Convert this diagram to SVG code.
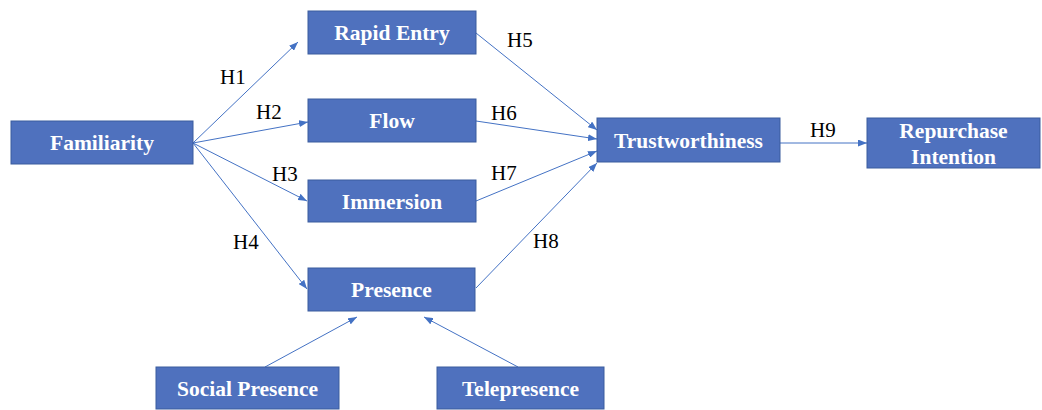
<svg xmlns="http://www.w3.org/2000/svg" width="1042" height="410" viewBox="0 0 1042 410">
<style>
.box{fill:#4F71BE;stroke:#3B5C9E;stroke-width:1}
.con{stroke:#4472C4;stroke-width:1;fill:none;marker-end:url(#ah)}
</style>
<defs>
<marker id="ah" markerUnits="userSpaceOnUse" markerWidth="9" markerHeight="7" refX="9" refY="3.5" orient="auto">
<path d="M0,0 L9,3.5 L0,7 z" fill="#4472C4"/>
</marker>
</defs>
<rect width="1042" height="410" fill="#FFFFFF"/>
<g id="connectors">
<line class="con" x1="193" y1="143" x2="298" y2="42"/>
<line class="con" x1="193" y1="143" x2="308" y2="122"/>
<line class="con" x1="193" y1="143" x2="307" y2="201"/>
<line class="con" x1="193" y1="143" x2="307" y2="289"/>
<line class="con" x1="476" y1="33" x2="597" y2="130"/>
<line class="con" x1="476" y1="121" x2="597" y2="139"/>
<line class="con" x1="476" y1="201" x2="597" y2="151"/>
<line class="con" x1="476" y1="288" x2="597" y2="163"/>
<line class="con" x1="780" y1="143" x2="867" y2="143"/>
<line class="con" x1="265" y1="367" x2="357" y2="317"/>
<line class="con" x1="518" y1="367" x2="424" y2="317"/>
</g>
<g id="labels">
<text x="220" y="84" font-family="'Liberation Serif', serif" font-size="21" fill="#000000">H1</text>
<text x="256" y="119" font-family="'Liberation Serif', serif" font-size="21" fill="#000000">H2</text>
<text x="272" y="181" font-family="'Liberation Serif', serif" font-size="21" fill="#000000">H3</text>
<text x="233" y="249" font-family="'Liberation Serif', serif" font-size="21" fill="#000000">H4</text>
<text x="507" y="47" font-family="'Liberation Serif', serif" font-size="21" fill="#000000">H5</text>
<text x="491" y="120" font-family="'Liberation Serif', serif" font-size="21" fill="#000000">H6</text>
<text x="491" y="180" font-family="'Liberation Serif', serif" font-size="21" fill="#000000">H7</text>
<text x="533" y="248" font-family="'Liberation Serif', serif" font-size="21" fill="#000000">H8</text>
<text x="810" y="137" font-family="'Liberation Serif', serif" font-size="21" fill="#000000">H9</text>
</g>
<g id="familiarity"><rect class="box" x="11" y="121" width="182" height="43"/><text x="102" y="150" font-family="'Liberation Serif', serif" font-size="21.5" font-weight="bold" fill="#FFFFFF" text-anchor="middle">Familiarity</text></g>
<g id="rapid-entry"><rect class="box" x="308" y="11" width="168" height="43"/><text x="392" y="40" font-family="'Liberation Serif', serif" font-size="21.5" font-weight="bold" fill="#FFFFFF" text-anchor="middle">Rapid Entry</text></g>
<g id="flow"><rect class="box" x="308" y="99" width="168" height="43"/><text x="392" y="128" font-family="'Liberation Serif', serif" font-size="21.5" font-weight="bold" fill="#FFFFFF" text-anchor="middle">Flow</text></g>
<g id="immersion"><rect class="box" x="308" y="180" width="168" height="42"/><text x="392" y="208.5" font-family="'Liberation Serif', serif" font-size="21.5" font-weight="bold" fill="#FFFFFF" text-anchor="middle">Immersion</text></g>
<g id="presence"><rect class="box" x="308" y="268" width="167" height="43"/><text x="391.5" y="297" font-family="'Liberation Serif', serif" font-size="21.5" font-weight="bold" fill="#FFFFFF" text-anchor="middle">Presence</text></g>
<g id="trustworthiness"><rect class="box" x="597" y="118" width="183" height="44"/><text x="688.5" y="148" font-family="'Liberation Serif', serif" font-size="21.5" font-weight="bold" fill="#FFFFFF" text-anchor="middle">Trustworthiness</text></g>
<g id="repurchase-intention"><rect class="box" x="867" y="118" width="173" height="50"/><text x="953.5" y="138" font-family="'Liberation Serif', serif" font-size="21.5" font-weight="bold" fill="#FFFFFF" text-anchor="middle">Repurchase</text><text x="953.5" y="164" font-family="'Liberation Serif', serif" font-size="21.5" font-weight="bold" fill="#FFFFFF" text-anchor="middle">Intention</text></g>
<g id="social-presence"><rect class="box" x="156" y="367" width="183" height="42"/><text x="247.5" y="396" font-family="'Liberation Serif', serif" font-size="21.5" font-weight="bold" fill="#FFFFFF" text-anchor="middle">Social Presence</text></g>
<g id="telepresence"><rect class="box" x="437" y="367" width="167" height="42"/><text x="520.5" y="396" font-family="'Liberation Serif', serif" font-size="21.5" font-weight="bold" fill="#FFFFFF" text-anchor="middle">Telepresence</text></g>
</svg>
